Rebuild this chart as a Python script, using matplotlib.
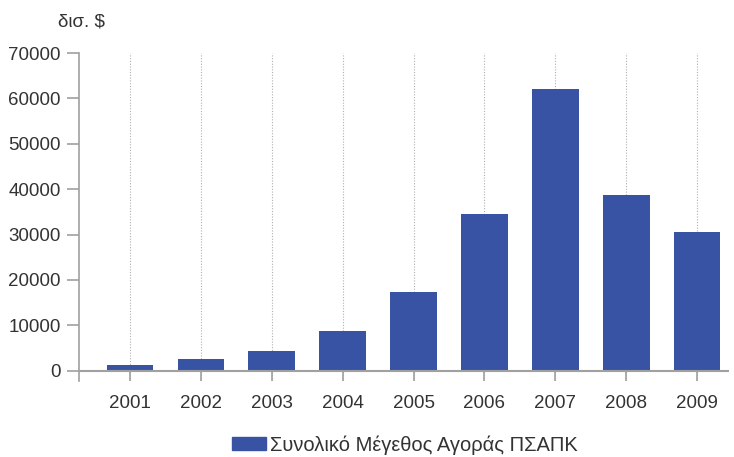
import numpy as np
import matplotlib.pyplot as plt
from matplotlib.patches import Patch

years = ['2001', '2002', '2003', '2004', '2005', '2006', '2007', '2008', '2009']
values = [1300, 2600, 4400, 8800, 17400, 34600, 62100, 38800, 30600]
yticks = [0, 10000, 20000, 30000, 40000, 50000, 60000, 70000]
series_label = 'Συνολικό Μέγεθος Αγοράς ΠΣΑΠΚ'
unit_label = 'δισ. $'

plt.rcParams['font.family'] = ['Liberation Sans', 'DejaVu Sans']
bar_color = '#3953a4'
axis_color = '#a0a0a0'
text_color = '#333333'

fig = plt.figure(figsize=(7.34, 4.57), dpi=100)
ax = fig.add_axes([79/734, (457-381)/457, (729-79)/734, (381-53)/457])

x = np.arange(len(years))
ax.bar(x, values, width=0.66, color=bar_color, zorder=3)

ax.set_xlim(-0.72, 8.45)
ax.set_ylim(-2250, 70000)
ax.set_yticks(yticks)
ax.set_yticklabels([str(v) for v in yticks], fontsize=13.5, color=text_color)
ax.set_xticks(x)
ax.set_xticklabels(years, fontsize=13.5, color=text_color)

for s in ['top', 'right', 'bottom']:
    ax.spines[s].set_visible(False)
ax.spines['left'].set_color(axis_color)
ax.spines['left'].set_linewidth(1.2)
ax.axhline(0, color=axis_color, lw=1.5, zorder=4)

ax.tick_params(axis='y', length=9, width=1.2, color=axis_color, pad=4)
ax.tick_params(axis='x', direction='in', length=10, width=1.2, color=axis_color, pad=10)
ax.xaxis.grid(True, linestyle=(0, (1, 1.5)), color='#b0b0b0', lw=0.8, zorder=1)

fig.text(58/734, 1 - 22/457, unit_label, fontsize=13.5, color=text_color, va='center', ha='left')

handles = [Patch(color=bar_color, label=series_label)]
fig.legend(handles=handles, loc='center', bbox_to_anchor=(405/734, 1 - 445/457),
           frameon=False, fontsize=14.5, handlelength=1.7, handleheight=0.6,
           handletextpad=0.2, labelcolor=text_color)

fig.savefig('out.png', dpi=100)
